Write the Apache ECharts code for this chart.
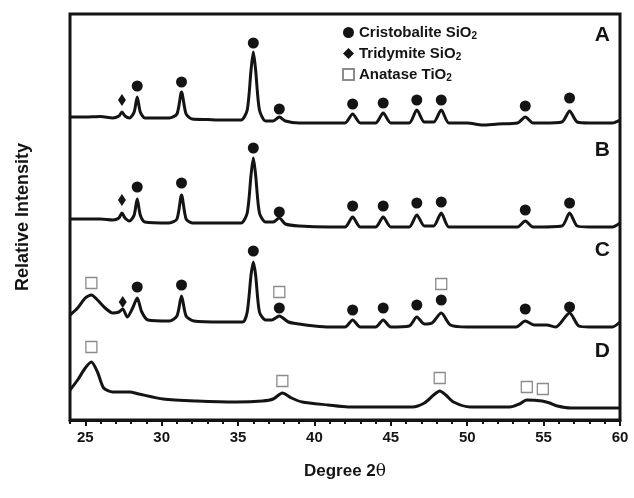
<!DOCTYPE html>
<html>
<head>
<meta charset="utf-8">
<script src="https://cdn.jsdelivr.net/npm/echarts@6/dist/echarts.min.js"></script>
<style>
html,body{margin:0;padding:0;background:#fff;}
#chart{width:634px;height:498px;}
</style>
</head>
<body>
<div id="chart"></div>
<script>
// ---- tick labels ----
const xTickLabels = [25, 30, 35, 40, 45, 50, 55, 60];
const xMinorTicks = [24, 25, 26, 27, 28, 29, 30, 31, 32, 33, 34, 35, 36, 37, 38, 39, 40, 41, 42,
  43, 44, 45, 46, 47, 48, 49, 50, 51, 52, 53, 54, 55, 56, 57, 58, 59, 60];

// ---- traces (2θ, relative intensity, stacked offsets as in the figure) ----
const traceA = [[24,303],[25,303],[26,303.5],[26.8,302],[27.2,304],[27.4,308],[27.6,304],[27.9,302],
  [28.2,308],[28.4,323],[28.6,308],[28.9,302],[29.5,302],[30.5,302],[31.0,306],[31.3,328],[31.6,306],
  [32.0,301],[33,300.5],[34,300],[35.2,300],[35.6,310],[35.85,350],[36.0,368],[36.15,350],[36.4,310],
  [36.8,299],[37.3,299],[37.7,303],[38.1,299],[39,297],[40,297],[41,297],[42.0,297],[42.5,306],[43.0,297],
  [44.0,297],[44.5,307],[45.0,297],[46.2,297],[46.7,310],[47.2,298],[47.8,298],[48.3,310],[48.8,297],
  [50,297],[51,295],[52,296],[53.3,297],[53.8,303],[54.3,297],[55,297],[56.2,298],[56.7,309],[57.2,298],
  [58,297],[59.5,297],[60,300]];
const traceB = [[24,201],[25,201],[26,201],[26.8,200],[27.2,202],[27.4,207],[27.6,202],[27.9,199],
  [28.2,205],[28.4,221],[28.6,205],[28.9,198],[30.5,197],[31.0,201],[31.3,225],[31.6,201],[32,197],
  [34,197],[35.2,197],[35.6,207],[35.85,245],[36.0,262],[36.15,245],[36.4,207],[36.8,198],[37.3,198],
  [37.7,202],[38.1,196],[39,194],[41,193],[42,193],[42.5,203],[43,193],[44,193],[44.5,203],[45,193],
  [46.2,193],[46.7,205],[47.2,194],[47.8,194],[48.3,207],[48.8,193],[50,193],[52,193],[53.3,193],
  [53.8,199],[54.3,193],[56.2,194],[56.7,207],[57.2,194],[58,193],[59.5,193],[60,197]];
const traceC = [[24,105],[24.5,112],[25.0,122],[25.4,125],[25.8,120],[26.3,112],[26.8,107],[27.2,108],
  [27.45,111],[27.75,103],[28.1,112],[28.4,122],[28.7,108],[29.1,100],[30.5,99],[31.0,104],[31.3,124],
  [31.6,104],[32.1,99],[34,98],[35.3,98],[35.6,108],[35.85,145],[36.0,158],[36.15,145],[36.4,108],
  [36.8,100],[37.2,100],[37.7,104],[38.3,98],[39,96],[40,94],[41,93],[42,93],[42.5,100],[43,93],[44,93],
  [44.5,100],[45,93],[46.2,94],[46.7,103],[47.2,96],[47.7,97],[48.3,107],[48.9,95],[50,93],[53.2,93],
  [53.8,99],[54.4,95],[55.2,95],[55.8,93],[56.7,107],[57.3,94],[58,93],[59.5,93],[60,98]];
const traceD = [[24,30],[24.5,40],[25.0,52],[25.4,58],[25.8,48],[26.2,32],[26.8,28],[27.9,28],[28.5,26],
  [30.1,21],[32.3,19],[34.9,18],[36.6,19],[37.3,21],[37.9,27],[38.5,22],[39.2,18],[40.9,15],[42.2,13],
  [44,13],[46.4,13],[47.2,17],[47.8,25],[48.2,29],[48.6,25],[49.1,18],[50.2,13],[52.8,13],[53.4,16],
  [53.9,20],[54.9,19],[55.4,17],[55.9,14],[56.8,12],[60,12]];

// ---- phase markers ----
const cristobalite = [[28.4,334],[31.3,338],[36.0,377],[37.7,311],[42.5,316],[44.5,317],[46.7,320],[48.3,320],[53.8,314],[56.7,322],
  [28.4,233],[31.3,237],[36.0,272],[37.7,208],[42.5,214],[44.5,214],[46.7,217],[48.3,218],[53.8,210],[56.7,217],
  [28.4,133],[31.3,135],[36.0,169],[37.7,112],[42.5,110],[44.5,112],[46.7,115],[48.3,120],[53.8,111],[56.7,113]];
const tridymite = [[27.4,320],[27.4,220],[27.45,118]];
const anatase = [[25.4,137],[37.7,128],[48.3,136],[25.4,73],[37.9,39],[48.2,42],[53.9,33],[54.95,31]];

// ---- trace labels ----
const traceLabels = [[58.85,385,'A'],[58.85,270,'B'],[58.85,170,'C'],[58.85,69,'D']];

const ink = '#141414';
const chart = echarts.init(document.getElementById('chart'), null, {renderer:'canvas'});
const lineSeries = (name, data) => ({
  name, type:'line', data, showSymbol:false, smooth:0.25,
  lineStyle:{color:ink, width:3}, itemStyle:{color:ink}, z:2, silent:true
});
chart.setOption({
  animation:false,
  backgroundColor:'#fff',
  grid:{left:70, right:14, top:14, bottom:78, show:true, borderColor:ink, borderWidth:3, backgroundColor:'transparent'},
  legend:{
    data:['Cristobalite SiO2','Tridymite SiO2','Anatase TiO2'],
    orient:'vertical', left:337, top:20, itemWidth:11, itemHeight:11, itemGap:5,
    formatter:(n)=>{const m=n.match(/^(.*O)2$/); return '{b|'+m[1]+'}{s|2}';},
    textStyle:{color:ink, rich:{
      b:{fontFamily:'Liberation Sans', fontWeight:'bold', fontSize:15, color:ink},
      s:{fontFamily:'Liberation Sans', fontWeight:'bold', fontSize:10, color:ink, padding:[7,0,0,0]}
    }}
  },
  xAxis:[{
    type:'value', min:24, max:60, position:'bottom',
    axisLine:{show:true, lineStyle:{color:ink, width:3}},
    axisTick:{show:true, inside:false, length:6, customValues:xTickLabels, lineStyle:{color:ink, width:2}},
    axisLabel:{show:true, customValues:xTickLabels, margin:10, fontFamily:'Liberation Sans', fontWeight:'bold', fontSize:15, color:ink},
    splitLine:{show:false},
    name:'{a|Degree 2}{t|θ}', nameLocation:'middle', nameGap:43,
    nameTextStyle:{rich:{
      a:{fontFamily:'Liberation Sans', fontWeight:'bold', fontSize:17, color:ink},
      t:{fontFamily:'DejaVu Serif', fontSize:17, color:ink}
    }}
  },{
    type:'value', min:24, max:60, position:'bottom',
    axisLine:{show:false},
    axisTick:{show:true, inside:false, length:4, customValues:xMinorTicks, lineStyle:{color:ink, width:2}},
    axisLabel:{show:false}, splitLine:{show:false}
  }],
  yAxis:{
    type:'value', min:0, max:406,
    axisLine:{show:false}, axisTick:{show:false}, axisLabel:{show:false}, splitLine:{show:false},
    name:'Relative Intensity', nameLocation:'middle', nameGap:38, nameRotate:90,
    nameTextStyle:{fontFamily:'Liberation Sans Narrow, Liberation Sans', fontWeight:'bold', fontSize:18, color:ink}
  },
  series:[
    lineSeries('A', traceA), lineSeries('B', traceB), lineSeries('C', traceC), lineSeries('D', traceD),
    {name:'Cristobalite SiO2', type:'scatter', data:cristobalite, symbol:'circle', symbolSize:11,
      itemStyle:{color:ink, opacity:1}, z:3},
    {name:'Tridymite SiO2', type:'scatter', data:tridymite, symbol:'diamond', symbolSize:[8,12],
      itemStyle:{color:ink, opacity:1}, z:3},
    {name:'Anatase TiO2', type:'scatter', data:anatase, symbol:'rect', symbolSize:11,
      itemStyle:{color:'#fff', borderColor:'#8c8c8c', borderWidth:1.3, opacity:1}, z:3},
    {name:'labels', type:'scatter', data:traceLabels, symbolSize:0, silent:true,
      itemStyle:{opacity:1},
      label:{show:true, position:'inside', formatter:(p)=>p.data[2],
        fontFamily:'Liberation Sans', fontWeight:'bold', fontSize:21, color:ink}}
  ]
});
</script>
</body>
</html>
